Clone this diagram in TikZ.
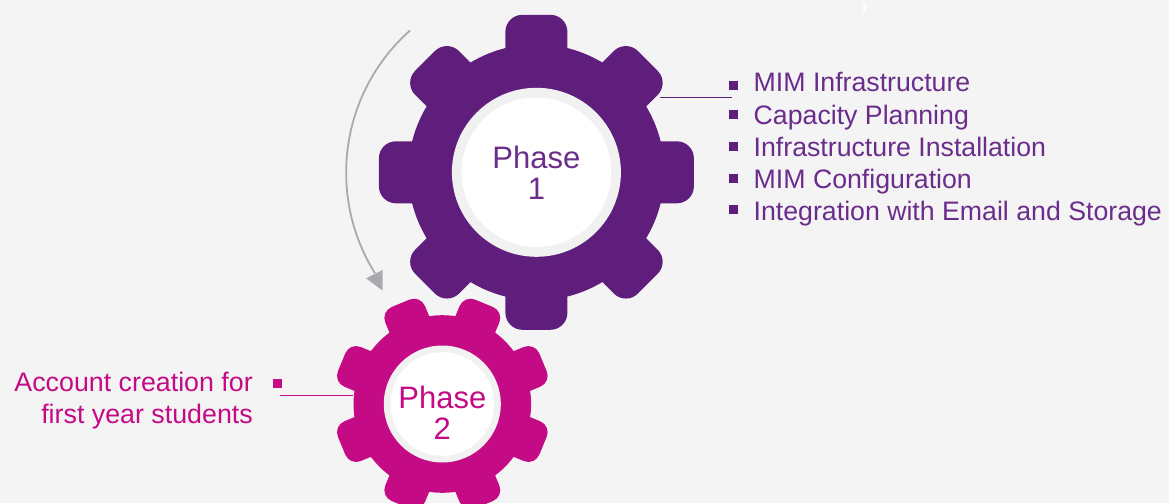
\documentclass[tikz,border=0pt]{standalone}
\usepackage{fontspec}
\setmainfont{Liberation Sans}
\definecolor{bgc}{HTML}{F4F4F4}
\definecolor{ringc}{HTML}{F1F1F1}
\definecolor{purp}{HTML}{5F1D7C}
\definecolor{purptext}{HTML}{6B2D8B}
\definecolor{mag}{HTML}{C50A86}
\definecolor{arrowc}{HTML}{ABA9AD}
\tikzset{
  x=1pt,y=-1pt,
  gearhub/.style={circle,inner sep=0pt,outer sep=0pt,fill=ringc,draw=none},
  gearface/.style={circle,inner sep=0pt,outer sep=0pt,fill=white,draw=none},
  phasetext/.style={anchor=base,inner sep=0pt,font=\fontsize{31}{33}\selectfont},
  bulletsq/.style={rectangle,inner sep=0pt,outer sep=0pt,minimum size=9pt},
  itemtext/.style={anchor=base west,inner sep=0pt,text=purptext,font=\fontsize{26.7}{30}\selectfont},
  lefttext/.style={anchor=base east,inner sep=0pt,text=mag,font=\fontsize{26.8}{30}\selectfont},
}
% #1 centre x, #2 centre y, #3 body radius, #4 tooth half width, #5 tooth radius, #6 corner, #7 colour, #8 start angle
\newcommand{\gearshape}[8]{%
  \fill[#7] (#1,#2) circle[radius=#3];
  \foreach \ang in {0,45,...,315}{%
    \pgfmathsetmacro{\actual}{\ang+#8}
    \begin{scope}[shift={(#1,#2)},rotate=\actual]
      \fill[#7,rounded corners=#6] (0,-#4) -- (#5,-#4) -- (#5,#4) -- (0,#4) -- cycle;
    \end{scope}
  }%
}
\begin{document}
\begin{tikzpicture}
\useasboundingbox (0,0) rectangle (1169,503);
\clip (0,0) rectangle (1169,503);
\fill[bgc] (0,0) rectangle (1169,503);
\fill[white!70!bgc] (862.5,3) rectangle (865.5,12);
% gears
\gearshape{536.4}{172.3}{128}{31}{157.5}{17}{purp}{0}
\gearshape{442.3}{404}{88.8}{21.5}{109}{11.8}{mag}{22.5}
\node[gearhub,minimum size=169pt] (hub1) at (536.4,172.3) {};
\node[gearface,minimum size=149.6pt] (face1) at (536.4,172.3) {};
\node[phasetext,text=purptext] (p1a) at (536.4,168) {Phase};
\node[phasetext,text=purptext] (p1b) at (536.4,199) {1};
\node[gearhub,minimum size=117pt] (hub2) at (442.3,404) {};
\node[gearface,minimum size=103.6pt] (face2) at (442.3,404) {};
\node[phasetext,text=mag] (p2a) at (442.3,408) {Phase};
\node[phasetext,text=mag] (p2b) at (442.3,439.3) {2};
% rotation arrow
\coordinate (arcstart) at (410,30.5);
\draw[arrowc,line width=1.8pt] (arcstart) arc[start angle=-131.6,end angle=-212,radius=190];
\fill[arrowc] (382.7,270) -- (382.7,290.7) -- (366,278.3) -- cycle;
% bullets
\coordinate (lead1a) at (659.5,97.4);
\coordinate (lead1b) at (732,97.4);
\draw[purp,line width=0.9pt] (lead1a) -- (lead1b);
\foreach \yy/\nm in {85.5/a,114.5/b,146.5/c,178.5/d,209.5/e}{
  \node[bulletsq,fill=purp] (b\nm) at (733.5,\yy) {};
}
\node[itemtext] (ta) at (753.5,92) {MIM Infrastructure};
\node[itemtext] (tb) at (753.5,124) {Capacity Planning};
\node[itemtext] (tc) at (753.5,156) {Infrastructure Installation};
\node[itemtext] (td) at (753.5,188) {MIM Configuration};
\node[itemtext] (te) at (753.5,220) {Integration with Email and Storage};
% left label
\coordinate (lead2a) at (280,395.3);
\coordinate (lead2b) at (353,395.3);
\draw[mag,line width=0.9pt] (lead2a) -- (lead2b);
\node[bulletsq,fill=mag] (bl) at (277.5,383.5) {};
\node[lefttext] (la) at (253,391.5) {Account creation for};
\node[lefttext] (lb) at (253,423) {first year students};
\end{tikzpicture}
\end{document}
